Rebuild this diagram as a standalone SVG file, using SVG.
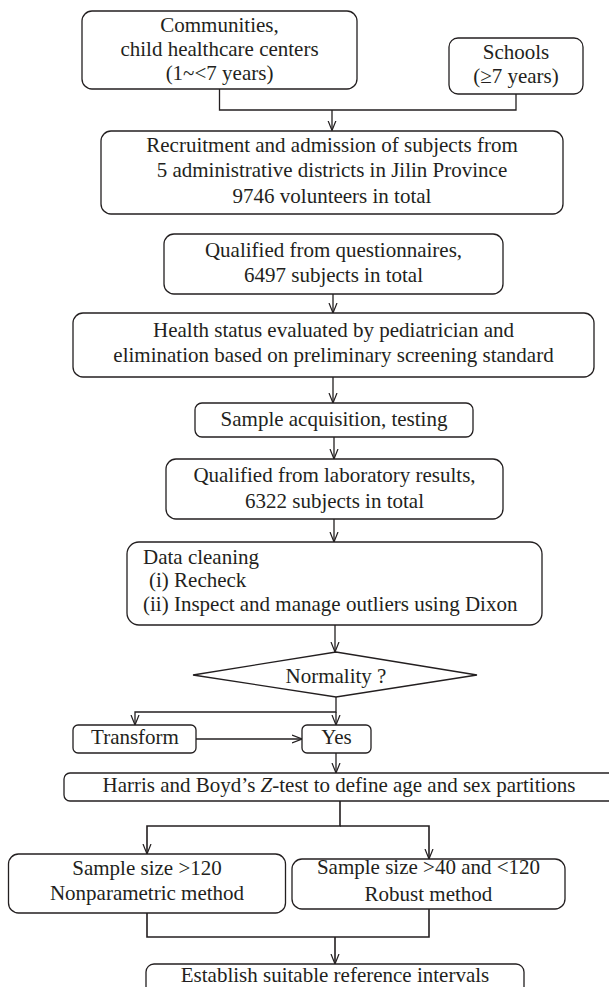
<svg xmlns="http://www.w3.org/2000/svg" width="609" height="987" viewBox="0 0 609 987">
<style>
.box{fill:#fff;stroke:#231f20;stroke-width:1.3}
.t{font-family:"Liberation Serif","Times New Roman",serif;font-size:21px;fill:#231f20;text-anchor:middle}
.tl{font-family:"Liberation Serif","Times New Roman",serif;font-size:21px;fill:#231f20}
.c{fill:none;stroke:#231f20;stroke-width:1.3}
</style>
<defs>
<marker id="ah" viewBox="0 0 10 10" refX="10" refY="5" markerWidth="10" markerHeight="10" markerUnits="userSpaceOnUse" orient="auto">
<path d="M0,1 L10,5 L0,9" fill="none" stroke="#231f20" stroke-width="1.2"/>
</marker>
</defs>
<rect width="609" height="987" fill="#fff"/>
<g id="connectors">
<path class="c" d="M219.5,89 V110 H516 V94"/>
<path class="c" d="M332,110 V130.5" marker-end="url(#ah)"/>
<path class="c" d="M333,294 V313" marker-end="url(#ah)"/>
<path class="c" d="M333,377 V403" marker-end="url(#ah)"/>
<path class="c" d="M334,437 V459" marker-end="url(#ah)"/>
<path class="c" d="M334,519 V542" marker-end="url(#ah)"/>
<path class="c" d="M335,625 V652" marker-end="url(#ah)"/>
<path class="c" d="M336,697 V712 H135 V725" marker-end="url(#ah)"/>
<path class="c" d="M336,712 V725" marker-end="url(#ah)"/>
<path class="c" d="M196,739 H302" marker-end="url(#ah)"/>
<path class="c" d="M336,753 V773" marker-end="url(#ah)"/>
<path class="c" d="M340,801 V826 H147 V854" marker-end="url(#ah)" style="stroke-width:1.6"/>
<path class="c" d="M340,826 H429 V859" marker-end="url(#ah)" style="stroke-width:1.6"/>
<path class="c" d="M147,913 V937 H429 V909" style="stroke-width:1.6"/>
<path class="c" d="M335,937 V964" marker-end="url(#ah)" style="stroke-width:1.6"/>
</g>
<g id="communities">
<rect class="box" x="82" y="11" width="275" height="78" rx="10"/>
<text class="t" x="219.5" y="32">Communities,</text>
<text class="t" x="219.5" y="56">child healthcare centers</text>
<text class="t" x="219.5" y="80">(1~&lt;7 years)</text>
</g>
<g id="schools">
<rect class="box" x="449" y="38" width="134" height="56" rx="9"/>
<text class="t" x="516" y="58.5">Schools</text>
<text class="t" x="516" y="83">(≥7 years)</text>
</g>
<g id="recruitment">
<rect class="box" x="101" y="131" width="462" height="83" rx="10"/>
<text class="t" x="332" y="152">Recruitment and admission of subjects from</text>
<text class="t" x="332" y="177">5 administrative districts in Jilin Province</text>
<text class="t" x="332" y="203">9746 volunteers in total</text>
</g>
<g id="questionnaires">
<rect class="box" x="164" y="234" width="339" height="60" rx="10"/>
<text class="t" x="333.5" y="257">Qualified from questionnaires,</text>
<text class="t" x="333.5" y="282">6497 subjects in total</text>
</g>
<g id="health">
<rect class="box" x="73" y="313" width="521" height="64" rx="10"/>
<text class="t" x="333.5" y="337">Health status evaluated by pediatrician and</text>
<text class="t" x="333.5" y="362">elimination based on preliminary screening standard</text>
</g>
<g id="sample">
<rect class="box" x="195" y="403" width="278" height="34" rx="7"/>
<text class="t" x="334" y="426">Sample acquisition, testing</text>
</g>
<g id="laboratory">
<rect class="box" x="166" y="459" width="337" height="60" rx="10"/>
<text class="t" x="334.5" y="482">Qualified from laboratory results,</text>
<text class="t" x="334.5" y="507.5">6322 subjects in total</text>
</g>
<g id="cleaning">
<rect class="box" x="127" y="542" width="415" height="83" rx="12"/>
<text class="tl" x="143" y="564">Data cleaning</text>
<text class="tl" x="149" y="587">(i) Recheck</text>
<text class="tl" x="143" y="611">(ii) Inspect and manage outliers using Dixon</text>
</g>
<g id="normality">
<polygon class="box" points="193,675 336,652 477,675 336,697"/>
<text class="t" x="336" y="683">Normality ?</text>
</g>
<g id="transform">
<rect class="box" x="73" y="725" width="123" height="28" rx="5"/>
<text class="t" x="135" y="744">Transform</text>
</g>
<g id="yes">
<rect class="box" x="302" y="725" width="69" height="28" rx="5"/>
<text class="t" x="336.5" y="744">Yes</text>
</g>
<g id="ztest">
<rect class="box" x="64" y="773" width="560" height="28" rx="6"/>
<text class="t" x="339" y="792">Harris and Boyd’s <tspan font-style="italic">Z</tspan>-test to define age and sex partitions</text>
</g>
<g id="nonparametric">
<rect class="box" x="8.5" y="854" width="277" height="59" rx="10"/>
<text class="t" x="147" y="875">Sample size &gt;120</text>
<text class="t" x="147" y="900">Nonparametric method</text>
</g>
<g id="robust">
<rect class="box" x="292" y="859" width="273" height="50" rx="10"/>
<text class="t" x="428.5" y="873.5">Sample size &gt;40 and &lt;120</text>
<text class="t" x="428.5" y="901">Robust method</text>
</g>
<g id="establish">
<rect class="box" x="146" y="964" width="378" height="40" rx="8"/>
<text class="t" x="335" y="982">Establish suitable reference intervals</text>
</g>
</svg>
